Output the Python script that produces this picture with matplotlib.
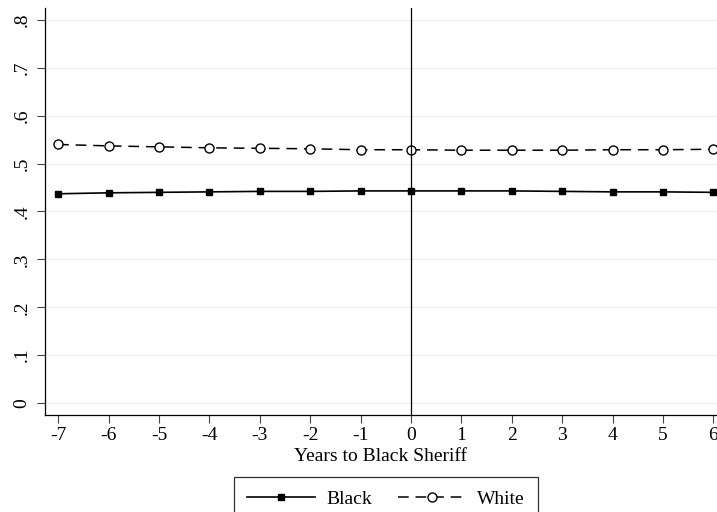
import numpy as np
import matplotlib
matplotlib.use("Agg")
import matplotlib.pyplot as plt

plt.rcParams['font.family'] = ['Liberation Serif', 'DejaVu Serif']

years = [-7, -6, -5, -4, -3, -2, -1, 0, 1, 2, 3, 4, 5, 6]
black = [0.437, 0.439, 0.440, 0.441, 0.442, 0.442, 0.443, 0.443, 0.443, 0.443, 0.442, 0.441, 0.441, 0.440]
white = [0.540, 0.537, 0.535, 0.533, 0.532, 0.531, 0.529, 0.529, 0.528, 0.528, 0.528, 0.529, 0.529, 0.530]
yticks = [0, 0.1, 0.2, 0.3, 0.4, 0.5, 0.6, 0.7, 0.8]
ylabels = ['0', '.1', '.2', '.3', '.4', '.5', '.6', '.7', '.8']

fs = 14
fig = plt.figure(figsize=(7.17, 5.12), dpi=100)
ax = fig.add_axes([45/717, 97/512, 672/717, 407/512])

ax.plot(years, black, color='black', lw=1.2, marker='s', ms=5, label='Black')
ax.plot(years, white, color='black', lw=1.1, ls=(0, (7, 4.5)), marker='o', ms=6.5,
        mfc='white', mec='black', mew=1.0, label='White')
ax.axvline(0, color='black', lw=0.9)

ax.set_xlim(-7.26, 6.07)
ax.set_ylim(-0.025, 0.825)
ax.set_xticks(years)
ax.set_xticklabels([str(y) for y in years], fontsize=fs)
ax.set_yticks(yticks)
ax.set_yticklabels(ylabels, fontsize=fs, rotation=90, va='center')
ax.grid(axis='y', color='#eaf2f3', lw=1.0)
ax.set_axisbelow(True)
ax.tick_params(direction='out', length=5.5, width=0.8, color='#444444')
ax.tick_params(axis='x', pad=3)
ax.tick_params(axis='y', pad=5)
for s in ['top', 'right']:
    ax.spines[s].set_visible(False)
for s in ['left', 'bottom']:
    ax.spines[s].set_linewidth(0.9)
ax.set_xlabel('Years to Black Sheriff', fontsize=fs, labelpad=3)

leg = fig.legend(loc='upper center', bbox_to_anchor=(386/717, 1 - 477/512), ncol=2,
                 handlelength=3.45, handletextpad=0.6, fontsize=fs, frameon=True,
                 fancybox=False, edgecolor='black', columnspacing=1.35,
                 borderpad=0.68, borderaxespad=0)
leg.get_frame().set_linewidth(0.9)

fig.savefig('out.png', dpi=100)
